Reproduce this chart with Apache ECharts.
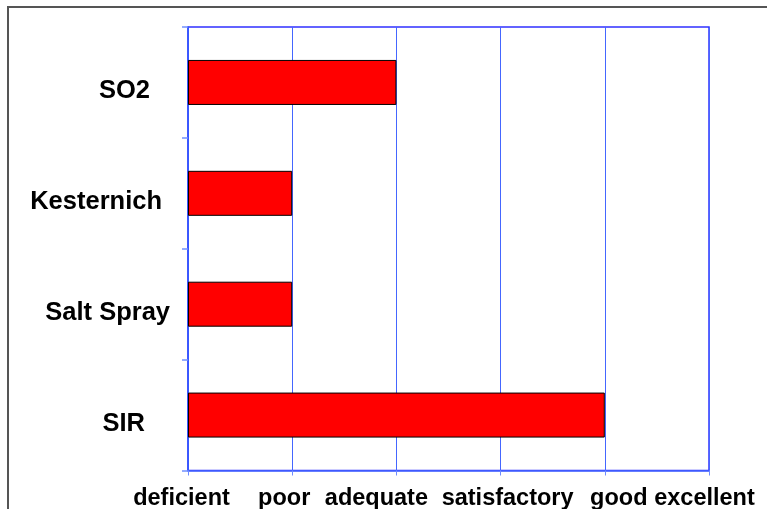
<!DOCTYPE html>
<html>
<head>
<meta charset="utf-8">
<script src="https://cdn.jsdelivr.net/npm/echarts@6/dist/echarts.min.js"></script>
<style>
html,body{margin:0;padding:0;background:#fff;}
#chart{position:absolute;left:0;top:0;width:767px;height:509px;}
#frame{position:absolute;left:7px;top:6px;width:800px;height:600px;border:2px solid #555;pointer-events:none;}
</style>
</head>
<body>
<div id="chart"></div>
<div id="frame"></div>
<script>
const categories = ['SO2', 'Kesternich', 'Salt Spray', 'SIR'];
const ratings = [2, 1, 1, 4];
const ratingLabels = ['deficient', 'poor', 'adequate', 'satisfactory', 'good', 'excellent'];

const chart = echarts.init(document.getElementById('chart'), null, {renderer: 'canvas'});
const font = "'Liberation Sans', Arial, sans-serif";
const xf = {fontFamily: font, fontWeight: 'bold', fontSize: 23.5, color: '#000'};
const yf = {fontFamily: font, fontWeight: 'bold', fontSize: 25.5, color: '#000'};
const xRich = {
  x0: Object.assign({padding: [0, 13, 0, 0]}, xf),
  x1: Object.assign({padding: [0, 16, 0, 0]}, xf),
  x2: Object.assign({padding: [0, 40, 0, 0]}, xf),
  x3: Object.assign({padding: [0, 0, 0, 14]}, xf),
  x4: Object.assign({padding: [0, 0, 0, 28]}, xf),
  x5: Object.assign({padding: [0, 9, 0, 0]}, xf)
};
const yRich = {
  y0: Object.assign({padding: [17, 20, 0, 0]}, yf),
  y1: Object.assign({padding: [17, 8, 0, 0]}, yf),
  y2: Object.assign({padding: [17, 0, 0, 0]}, yf),
  y3: Object.assign({padding: [17, 25, 0, 0]}, yf)
};
chart.setOption({
  animation: false,
  grid: {left: 188, right: 58, top: 27, bottom: 38.5, outerBoundsMode: 'none', containLabel: false, show: true, borderColor: '#3030ff', borderWidth: 1.5, backgroundColor: 'transparent'},
  xAxis: {
    type: 'value', min: 0, max: 5, interval: 1,
    axisLine: {show: true, lineStyle: {color: '#4466ff', width: 1.5}},
    axisTick: {show: true, length: 5, lineStyle: {color: '#6f8cff'}},
    splitLine: {show: true, lineStyle: {color: '#4466ff', width: 1}},
    axisLabel: Object.assign({
      margin: 16, rich: xRich,
      formatter: v => '{x' + v + '|' + (ratingLabels[v] || '') + '}'
    }, xf)
  },
  yAxis: {
    type: 'category', data: categories, inverse: true,
    axisLine: {show: true, lineStyle: {color: '#3355ff', width: 1.5}},
    axisTick: {show: true, length: 6, lineStyle: {color: '#7090ff', width: 1.5}},
    axisLabel: Object.assign({
      margin: 18, rich: yRich,
      formatter: (v, i) => '{y' + i + '|' + v + '}'
    }, yf)
  },
  series: [{
    type: 'bar', data: ratings, barWidth: 45,
    itemStyle: {color: '#ff0000', borderColor: '#000', borderWidth: 1}
  }]
});
</script>
</body>
</html>
